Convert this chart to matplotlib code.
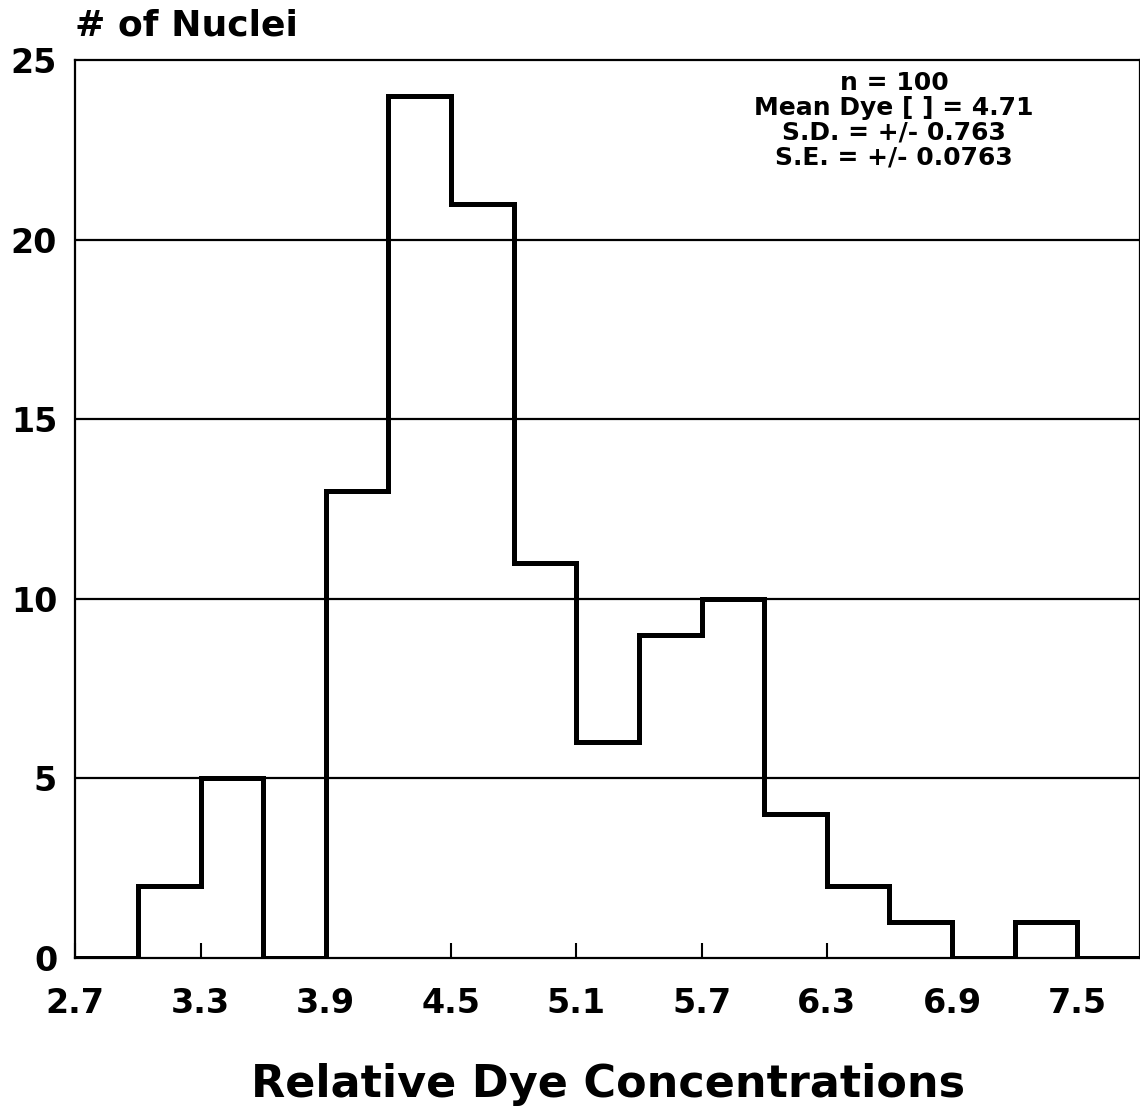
import numpy as np
import matplotlib
matplotlib.use('Agg')
import matplotlib.pyplot as plt

plt.rcParams['font.family'] = ['DejaVu Sans']
plt.rcParams['font.weight'] = 'bold'

# Histogram data
bin_edges = [2.7, 3.0, 3.3, 3.6, 3.9, 4.2, 4.5, 4.8, 5.1, 5.4,
             5.7, 6.0, 6.3, 6.6, 6.9, 7.2, 7.5, 7.8]
nuclei_counts = [0, 2, 5, 0, 13, 24, 21, 11, 6, 9, 10, 4, 2, 1, 0, 1, 0]

x_ticks = [2.7, 3.3, 3.9, 4.5, 5.1, 5.7, 6.3, 6.9, 7.5]
y_ticks = [0, 5, 10, 15, 20, 25]

stats_lines = ['n = 100',
               'Mean Dye [ ] = 4.71',
               'S.D. = +/- 0.763',
               'S.E. = +/- 0.0763']


def main():
    fig = plt.figure(figsize=(11.4, 11.07), dpi=100)
    ax = fig.add_axes([0.066, 0.1346, 0.934, 0.8112])

    # horizontal grid lines
    for y in y_ticks[1:-1]:
        ax.axhline(y, color='black', lw=1.6, zorder=1)

    ax.stairs(nuclei_counts, bin_edges, color='black', lw=3.6,
              baseline=0, zorder=3)

    ax.set_xlim(bin_edges[0], bin_edges[-1])
    ax.set_ylim(0, 25)

    ax.set_xticks(x_ticks)
    ax.set_xticklabels([f'{v:.1f}' for v in x_ticks])
    ax.set_yticks(y_ticks)
    ax.tick_params(axis='x', direction='in', length=11, width=1.5,
                   pad=21, labelsize=24)
    ax.tick_params(axis='y', length=0, pad=13, labelsize=24)
    for lbl in ax.get_xticklabels() + ax.get_yticklabels():
        lbl.set_fontweight('bold')

    for s in ax.spines.values():
        s.set_linewidth(1.6)

    ax.set_xlabel('Relative Dye Concentrations', fontsize=32,
                  fontweight='bold', labelpad=31)
    fig.text(0.066, 0.968, '# of Nuclei', fontsize=26, fontweight='bold',
             ha='left', va='baseline')

    ax.text(0.769, 0.988, '\n'.join(stats_lines), transform=ax.transAxes,
            ha='center', va='top', fontsize=18, fontweight='bold',
            linespacing=1.05)

    fig.savefig('out.png', dpi=100)
    plt.close(fig)


if __name__ == '__main__':
    main()
